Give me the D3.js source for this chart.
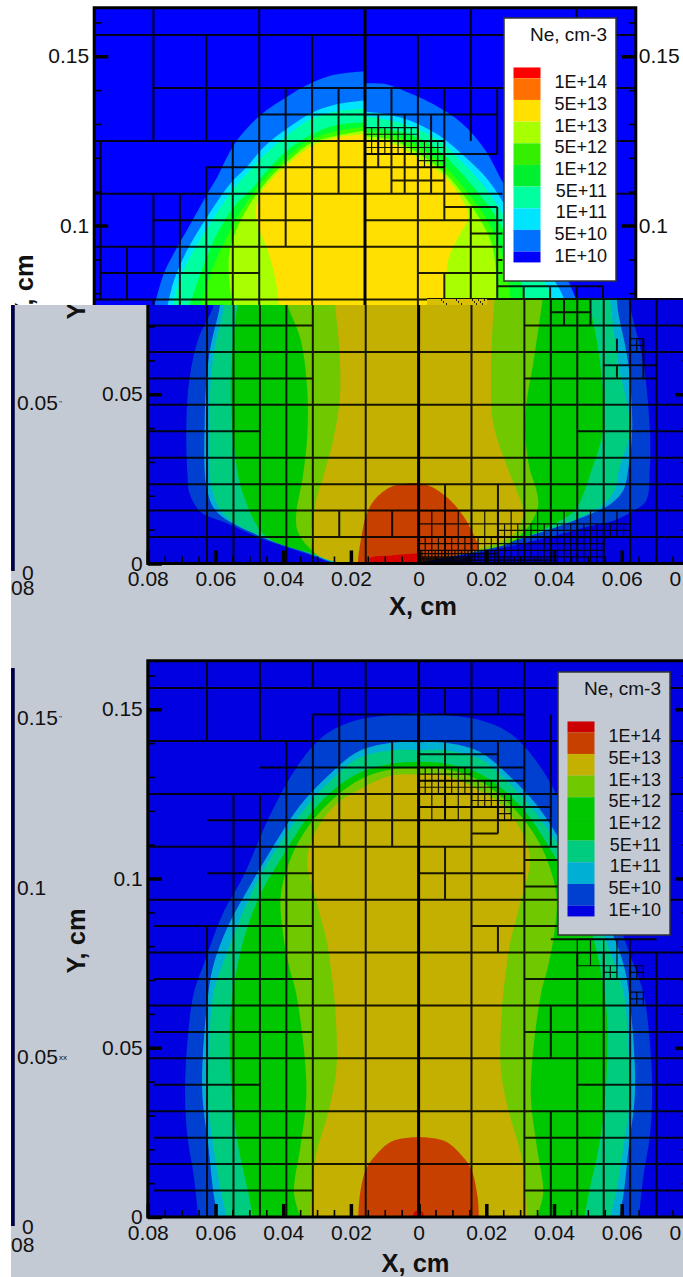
<!DOCTYPE html>
<meta charset="utf-8">
<style>
	html, body { margin: 0; padding: 0; background: #fff; }
	svg { display: block; }
	text { font-family: "Liberation Sans", Arial, sans-serif; fill: #111; }
	.tick text { font-size: 21px; }
	.tick line { stroke: #000; }
	.major .tick line { stroke-width: 3.5px; }
	.minor .tick line { stroke-width: 1.6px; }
	.title { font-size: 25.5px; font-weight: bold; }
	.grid { stroke: #000; stroke-width: 2px; stroke-opacity: 0.88; fill: none; }
	.fine { stroke: #000; stroke-width: 1.2px; stroke-opacity: 0.9; fill: none; }
</style>
<svg width="683" height="1277"></svg>
<script src="https://d3js.org/d3.v7.min.js"></script>
<script>

	// legend
	var legendLabels = ["1E+14", "5E+13", "1E+13", "5E+12", "1E+12", "5E+11", "1E+11", "5E+10", "1E+10"];
	var legendEdges = [-0.5, 0, 1, 2, 3, 4, 5, 6, 7, 8, 8.5];
	var brightColors = ["#ff0000", "#ff7000", "#ffe000", "#a8ff00", "#34f000", "#00f030", "#00ffa0", "#00e4ff", "#0070ff", "#0000ff"];
	var dullColors = ["#cc0000", "#c84000", "#c4b000", "#70c800", "#00c800", "#00c800", "#00cc80", "#00b0d4", "#0040d0", "#0000e0"];

	// ticks
	var xMajor = [-0.08, -0.06, -0.04, -0.02, 0, 0.02, 0.04, 0.06, 0.08];
	var xMinor = [-0.075, -0.07, -0.065, -0.055, -0.05, -0.045, -0.035, -0.03, -0.025, -0.015, -0.01, -0.005, 0.005, 0.01, 0.015, 0.025, 0.03, 0.035, 0.045, 0.05, 0.055, 0.065, 0.07, 0.075];
	var yMajor = [0, 0.05, 0.1, 0.15];
	var yMinor = [0.01, 0.02, 0.03, 0.04, 0.06, 0.07, 0.08, 0.09, 0.11, 0.12, 0.13, 0.14, 0.16];

	// contour lines, x and y in cm, outer level first
	var topFills = ["#0070ff", "#00e4ff", "#00ffa0", "#00ff30", "#38ff00", "#a8ff00", "#ffe000"];
	var topLeft = [
		[[0, 0.1456], [-0.0092, 0.1445], [-0.0161, 0.1420], [-0.0229, 0.1381], [-0.0308, 0.1327], [-0.0377, 0.1253], [-0.0407, 0.1203], [-0.0436, 0.1144], [-0.0471, 0.1085], [-0.0515, 0.1006], [-0.0559, 0.0928], [-0.0594, 0.0859], [-0.0623, 0.0760]],
		[[0, 0.1369], [-0.0092, 0.1356], [-0.0161, 0.1331], [-0.0229, 0.1287], [-0.0298, 0.1233], [-0.0348, 0.1174], [-0.0397, 0.1125], [-0.0466, 0.1026], [-0.0525, 0.0928], [-0.0564, 0.0839], [-0.0584, 0.0760]],
		[[0, 0.1346], [-0.0092, 0.1336], [-0.0161, 0.1314], [-0.0229, 0.1267], [-0.0298, 0.1208], [-0.0348, 0.1154], [-0.0387, 0.1110], [-0.0451, 0.1016], [-0.0505, 0.0928], [-0.0545, 0.0849], [-0.0569, 0.0760]],
		[[0, 0.1305], [-0.0092, 0.1295], [-0.0161, 0.1267], [-0.0229, 0.1223], [-0.0288, 0.1164], [-0.0338, 0.1105], [-0.0387, 0.1056], [-0.0436, 0.0977], [-0.0471, 0.0898], [-0.0500, 0.0819], [-0.0520, 0.0760]],
		[[0, 0.1292], [-0.0092, 0.1277], [-0.0161, 0.1253], [-0.0229, 0.1203], [-0.0288, 0.1149], [-0.0338, 0.1085], [-0.0377, 0.1026], [-0.0422, 0.0938], [-0.0456, 0.0859], [-0.0486, 0.0760]],
		[[0, 0.1280], [-0.0092, 0.1264], [-0.0161, 0.1243], [-0.0219, 0.1198], [-0.0269, 0.1154], [-0.0318, 0.1095], [-0.0362, 0.1026], [-0.0397, 0.0938], [-0.0403, 0.0878], [-0.0392, 0.0760]],
		[[0, 0.1270], [-0.0092, 0.1258], [-0.0161, 0.1233], [-0.0219, 0.1189], [-0.0269, 0.1144], [-0.0308, 0.1095], [-0.0323, 0.1046], [-0.0318, 0.1006], [-0.0288, 0.0928], [-0.0264, 0.0839], [-0.0254, 0.0760]]
	];
	var topRight = [
		[[0, 0.1420], [0.0059, 0.1418], [0.0098, 0.1405], [0.0197, 0.1361], [0.0286, 0.1302], [0.0355, 0.1223], [0.0409, 0.1125], [0.0492, 0.1006], [0.0571, 0.0898], [0.0625, 0.0780], [0.0635, 0.0760]],
		[[0, 0.1336], [0.0049, 0.1331], [0.0128, 0.1312], [0.0217, 0.1267], [0.0295, 0.1203], [0.0364, 0.1134], [0.0423, 0.1046], [0.0502, 0.0928], [0.0581, 0.0800], [0.0595, 0.0760]],
		[[0, 0.1322], [0.0059, 0.1314], [0.0138, 0.1292], [0.0222, 0.1248], [0.0295, 0.1179], [0.0364, 0.1100], [0.0419, 0.1016], [0.0492, 0.0908], [0.0547, 0.0800], [0.0560, 0.0760]],
		[[0, 0.1287], [0.0059, 0.1284], [0.0138, 0.1267], [0.0217, 0.1223], [0.0276, 0.1164], [0.0335, 0.1095], [0.0404, 0.0997], [0.0453, 0.0859], [0.0473, 0.0780], [0.0478, 0.0760]],
		[[0, 0.1276], [0.0079, 0.1267], [0.0158, 0.1233], [0.0236, 0.1174], [0.0305, 0.1095], [0.0355, 0.1026], [0.0394, 0.0947], [0.0423, 0.0839], [0.0433, 0.0760]],
		[[0, 0.1264], [0.0079, 0.1253], [0.0158, 0.1213], [0.0236, 0.1154], [0.0295, 0.1085], [0.0335, 0.1026], [0.0374, 0.0947], [0.0389, 0.0839], [0.0394, 0.0760]],
		[[0, 0.1253], [0.0079, 0.1243], [0.0158, 0.1198], [0.0236, 0.1144], [0.0286, 0.1075], [0.0305, 0.1026], [0.0276, 0.0967], [0.0246, 0.0898], [0.0236, 0.0760]]
	];

	var lowFills = ["#0040d0", "#00b0d4", "#00cc80", "#00c800", "#70c800", "#c4b000", "#c84000", "#d60000"];
	var midLeft = [
		[[-0.0606, 0.0790], [-0.0606, 0.0762], [-0.0651, 0.0663], [-0.0677, 0.0545], [-0.0686, 0.0416], [-0.0683, 0.0267], [-0.0677, 0.0208], [-0.0645, 0.0153], [-0.0567, 0.0119], [-0.0464, 0.0074], [-0.0336, 0.0030], [-0.0259, 0.0002]],
		[[-0.0587, 0.0790], [-0.0587, 0.0762], [-0.0619, 0.0614], [-0.0632, 0.0416], [-0.0625, 0.0218], [-0.0593, 0.0149], [-0.0464, 0.0079], [-0.0336, 0.0035], [-0.0252, 0.0002]],
		[[-0.0574, 0.0790], [-0.0574, 0.0762], [-0.0606, 0.0614], [-0.0619, 0.0416], [-0.0610, 0.0218], [-0.0574, 0.0144], [-0.0452, 0.0074], [-0.0323, 0.0030], [-0.0246, 0.0002]],
		[[-0.0535, 0.0790], [-0.0535, 0.0765], [-0.0542, 0.0713], [-0.0555, 0.0515], [-0.0542, 0.0317], [-0.0516, 0.0198], [-0.0452, 0.0081], [-0.0310, 0.0028], [-0.0239, 0.0002]],
		[[-0.0387, 0.0790], [-0.0387, 0.0765], [-0.0349, 0.0663], [-0.0329, 0.0515], [-0.0329, 0.0376], [-0.0342, 0.0257], [-0.0362, 0.0139], [-0.0355, 0.0089], [-0.0310, 0.0035], [-0.0233, 0.0002]],
		[[-0.0246, 0.0790], [-0.0246, 0.0765], [-0.0233, 0.0614], [-0.0233, 0.0485], [-0.0252, 0.0366], [-0.0278, 0.0267], [-0.0304, 0.0178], [-0.0310, 0.0035], [-0.0226, 0.0002]],
		[[0, 0.0238], [-0.0078, 0.0228], [-0.0130, 0.0188], [-0.0156, 0.0139], [-0.0169, 0.0079], [-0.0179, 0.0010], [-0.0179, 0]],
		[[0, 0.0030], [-0.0077, 0.0024], [-0.0143, 0.0016], [-0.0143, 0]]
	];
	var midRight = [
		[[0.0619, 0.0790], [0.0629, 0.0741], [0.0664, 0.0593], [0.0683, 0.0396], [0.0683, 0.0276], [0.0673, 0.0187], [0.0639, 0.0158], [0.0580, 0.0128], [0.0501, 0.0109], [0.0412, 0.0084], [0.0284, 0.0054], [0.0166, 0.0030], [0, 0.0005]],
		[[0.0585, 0.0790], [0.0590, 0.0741], [0.0619, 0.0593], [0.0631, 0.0396], [0.0619, 0.0276], [0.0605, 0.0217], [0.0570, 0.0178], [0.0511, 0.0148], [0.0422, 0.0114], [0.0284, 0.0074], [0.0166, 0.0045], [0, 0.0012]],
		[[0.0565, 0.0790], [0.0570, 0.0741], [0.0590, 0.0593], [0.0624, 0.0396], [0.0592, 0.0276], [0.0580, 0.0217], [0.0550, 0.0178], [0.0491, 0.0143], [0.0412, 0.0109], [0.0284, 0.0069], [0.0166, 0.0040], [0, 0.0010]],
		[[0.0505, 0.0790], [0.0511, 0.0741], [0.0536, 0.0593], [0.0545, 0.0396], [0.0511, 0.0276], [0.0491, 0.0217], [0.0462, 0.0158], [0.0403, 0.0118], [0.0284, 0.0067], [0.0166, 0.0038], [0, 0.0008]],
		[[0.0368, 0.0790], [0.0339, 0.0593], [0.0319, 0.0475], [0.0316, 0.0376], [0.0329, 0.0276], [0.0348, 0.0217], [0.0353, 0.0168], [0.0324, 0.0109], [0.0275, 0.0064], [0.0166, 0.0035], [0, 0.0006]],
		[[0.0225, 0.0790], [0.0218, 0.0692], [0.0214, 0.0544], [0.0220, 0.0416], [0.0265, 0.0276], [0.0289, 0.0217], [0.0309, 0.0148], [0.0284, 0.0089], [0.0186, 0.0045], [0, 0.0002]],
		[[0, 0.0237], [0.0038, 0.0227], [0.0088, 0.0192], [0.0127, 0.0148], [0.0156, 0.0099], [0.0176, 0.0049], [0.0171, 0.0040], [0, 0.0005]]
	];
	var lowHalf = [
		[[0, 0.1490], [-0.0078, 0.1483], [-0.0181, 0.1468], [-0.0271, 0.1428], [-0.0349, 0.1345], [-0.0439, 0.1187], [-0.0516, 0.1010], [-0.0580, 0.0892], [-0.0632, 0.0754], [-0.0664, 0.0662], [-0.0683, 0.0518], [-0.0690, 0.0366], [-0.0683, 0.0238], [-0.0664, 0.0120], [-0.0651, 0]],
		[[0, 0.1402], [-0.0078, 0.1401], [-0.0181, 0.1374], [-0.0271, 0.1300], [-0.0349, 0.1217], [-0.0439, 0.1079], [-0.0503, 0.0970], [-0.0561, 0.0864], [-0.0606, 0.0744], [-0.0621, 0.0662], [-0.0638, 0.0465], [-0.0638, 0.0347], [-0.0621, 0.0209], [-0.0606, 0.0071], [-0.0593, 0]],
		[[0, 0.1379], [-0.0078, 0.1379], [-0.0181, 0.1354], [-0.0259, 0.1290], [-0.0336, 0.1207], [-0.0413, 0.1098], [-0.0477, 0.0990], [-0.0535, 0.0862], [-0.0580, 0.0744], [-0.0606, 0.0662], [-0.0621, 0.0465], [-0.0623, 0.0347], [-0.0606, 0.0209], [-0.0587, 0.0091], [-0.0567, 0]],
		[[0, 0.1345], [-0.0078, 0.1340], [-0.0169, 0.1315], [-0.0246, 0.1266], [-0.0323, 0.1187], [-0.0400, 0.1069], [-0.0464, 0.0961], [-0.0510, 0.0843], [-0.0535, 0.0744], [-0.0555, 0.0612], [-0.0557, 0.0465], [-0.0548, 0.0317], [-0.0529, 0.0189], [-0.0503, 0.0071], [-0.0490, 0]],
		[[0, 0.1325], [-0.0078, 0.1323], [-0.0169, 0.1295], [-0.0246, 0.1241], [-0.0323, 0.1158], [-0.0374, 0.1069], [-0.0407, 0.0951], [-0.0400, 0.0833], [-0.0381, 0.0734], [-0.0362, 0.0662], [-0.0336, 0.0465], [-0.0332, 0.0347], [-0.0349, 0.0209], [-0.0368, 0.0071], [-0.0349, 0]],
		[[0, 0.1307], [-0.0078, 0.1305], [-0.0169, 0.1266], [-0.0246, 0.1217], [-0.0310, 0.1128], [-0.0329, 0.1049], [-0.0304, 0.0941], [-0.0271, 0.0813], [-0.0259, 0.0734], [-0.0246, 0.0612], [-0.0243, 0.0435], [-0.0265, 0.0317], [-0.0304, 0.0179], [-0.0317, 0.0071], [-0.0320, 0]],
		[[0, 0.0236], [-0.0078, 0.0224], [-0.0130, 0.0179], [-0.0156, 0.0140], [-0.0174, 0.0061], [-0.0178, 0]],
		[[0, 0.0022], [-0.0012, 0.0015], [-0.0017, 0]]
	];

	// mesh, in cells of 1/128 cm: [level, from, to]
	var cell = 1 / 128, edge = 10.24, roof = 21.03;
	var firstRows = [[20, -edge, edge], [18, -8, edge], [17, -4, 5], [16, -edge, 3], [16, 8, edge], [15.5, 0, 5], [15, -6, 3], [14.5, 1, 3], [14, -edge, 5.2], [14, 8, edge], [13.5, 3, 5], [13, -8, -2], [13, 0, 5.2], [12.5, 4, 5.2], [12, -edge, 5.2], [11.5, 5, 5.2], [11, -10, -4], [11, 2, 5.2], [10.5, 5, 9], [10, -edge, edge],
		[9.5, 5, 6.5], [9, -edge, -4], [9, 4, edge], [8, -edge, edge], [7.5, 7, 9], [7, -edge, -4], [7, 4, 9], [6, -edge, edge], [5, -edge, -6], [5, 6, edge], [4, -edge, edge], [3, -edge, edge], [2, -edge, edge], [1, -edge, edge]];
	var firstCols = [[-10, 10, 16], [-9, 10, 12], [-8, 16, roof], [-8, 11, 14], [-8, 0, 10], [-7, 0, 14], [-6, 16, 20], [-6, 0, 15], [-5, 0, 16], [-4, 0, roof], [-3, 12, 18], [-3, 1, 2], [-2, 0, 20], [-1, 14, 18], [-1, 1, 2],
		[0.5, 15, 17], [1, 14, 18], [1, 0, 3], [1.5, 14, 17], [2, 0, 20], [2.5, 14, 17], [3, 13, 18], [3, 10, 11], [3, 0, 3], [4, 16, roof], [4, 0, 13.5], [5, 15.5, 18], [5, 0, 13.5], [6, 18, 20], [6, 0, 10.5], [7, 0, 10.5], [8, 18, roof], [8, 0, 10.5], [9, 0, 10.5], [5.5, 9, 10], [6.5, 9, 10], [7.5, 7, 7.5], [7.5, 8, 8.5], [8.5, 7, 8.5]];
	// refined boxes: [left, right, bottom, top, step]
	var firstBoxes = [[0, 2, 15.5, 16.5, 0.25], [2, 3, 15, 16, 0.25], [8, 8.5, 8, 8.5, 0.25], [0, 8, 1.5, 2, 0.5], [0, 3, 1, 1.5, 0.5], [3, 8, 1, 1.5, 0.25], [0, 7, 0.5, 1, 0.25], [0, 3, 0.25, 0.5, 0.125], [3, 7, 0, 0.5, 0.25], [0, 2, 0, 0.25, 0.0625], [2, 5, 0, 0.25, 0.125]];

	var lowRows = [[20, -edge, edge], [19, -4, 4], [18, -edge, edge], [17.5, 0, 3], [17, -6, 4], [16.5, 0, 4], [16, -edge, edge], [15.5, 0, 5], [15, -8, 5], [14.5, 2, 3], [14, -edge, 6], [13.5, 4, 6], [13, -8, -4], [13, 0, 4], [12.5, 4, 6], [12, -edge, edge], [11, -10, -4], [11, 2, 6], [10.5, 5, 9], [10, -edge, edge],
		[9, -10, -4], [9, 4, edge], [8, -edge, edge], [7, -10, -4], [7, 4, edge], [6, -edge, edge], [5, -10, -6], [5, 6, edge], [4, -edge, edge], [3, -10, -4], [3, 4, edge], [2, -edge, edge], [1, -10, -4], [1, 4, edge]];
	var lowCols = [[-8, 18, roof], [-8, 0, 11], [-7, 0, 16], [-6, 18, roof], [-6, 0, 16], [-5, 0, 18], [-4, 20, roof], [-4, 0, 19], [-3, 14, 20], [-2, 0, roof], [-1, 14, 18], [1, 19, 20], [1, 15, 18], [1, 12, 14], [2, 0, roof], [3, 19, 20], [3, 14.5, 18], [3, 10, 11], [4, 0, roof], [5, 14, 19], [5, 6, 8], [5, 0, 4], [6, 19, 20], [6, 0, 10], [7, 0, 10], [8, 0, 10], [9, 0, 10], [9, 7, 8]];
	var lowBoxes = [[0, 2, 16, 17, 0.25], [2, 3, 15.5, 16.5, 0.25], [3, 3.5, 15, 16, 0.25], [0, 2, 15, 16, 0.5], [7, 7.5, 9, 9.5, 0.25], [8, 8.5, 9, 9.5, 0.25], [8, 8.5, 8, 8.5, 0.25], [6, 8, 9.5, 10.5, 0.5]];

	// left over labels of the figure underneath: text, y, mark after it
	var strayMid = [["0.05", 403, "''"], ["0", 573, ""]];
	var strayLow = [["0.15", 718, "''"], ["0.1", 888, ""], ["0.05", 1057, "xx"], ["0", 1227, ""]];
	var tornBits = [441, 443, 446, 456, 458, 461, 472, 474, 476, 478, 480, 482, 484];

	var svg = d3.select("svg");
	var defs = svg.append("defs");
	var scale = 3385, halfWidth = 0.08 * scale;

	defs.append("clipPath").attr("id", "clipTop").append("rect").attr("width", 683).attr("height", 305);
	defs.append("clipPath").attr("id", "clipMid").append("path").attr("d", "M11,305H427V298H683V650H11Z");
	defs.append("clipPath").attr("id", "clipPage").append("rect").attr("width", 683).attr("height", 1277);

	function drawHalf(g, lines, fills, x, y) {
		var line = d3.line().x(function(d) { return x(d[0]); }).y(function(d) { return y(d[1]); })
			.curve(d3.curveCatmullRom.alpha(0.5));
		lines.forEach(function(pts, i) {
			var first = pts[0], last = pts[pts.length - 1];
			g.append("path")
				.attr("fill", fills[i])
				.attr("d", line(pts) + "L" + x(0) + "," + y(last[1]) + "L" + x(0) + "," + y(first[1]) + "Z");
		});
	}

	function drawMesh(g, rows, cols, boxes, x, y) {
		var gx = function(i) { return x(i * cell); }, gy = function(j) { return y(j * cell); };
		var d = rows.map(function(r) { return "M" + gx(r[1]) + "," + gy(r[0]) + "H" + gx(r[2]); }).join("")
			+ cols.map(function(c) { return "M" + gx(c[0]) + "," + gy(c[1]) + "V" + gy(c[2]); }).join("");
		g.append("path").attr("class", "grid").attr("d", d);
		var fine = "";
		boxes.forEach(function(b) {
			d3.range(b[0], b[1] + 1e-6, b[4]).forEach(function(i) { fine += "M" + gx(i) + "," + gy(b[2]) + "V" + gy(b[3]); });
			d3.range(b[2], b[3] + 1e-6, b[4]).forEach(function(j) { fine += "M" + gx(b[0]) + "," + gy(j) + "H" + gx(b[1]); });
		});
		g.append("path").attr("class", "fine").attr("d", fine);
	}

	function drawLegend(g, left, top, colors) {
		var band = d3.scaleLinear().domain([0, 8]).range([top + 60.3, top + 233.6]);
		g.append("rect").attr("x", left).attr("y", top).attr("width", 112).attr("height", 263)
			.attr("fill", colors.box).attr("stroke", "#333").attr("stroke-width", 1.5);
		g.append("text").attr("x", left + 103).attr("y", top + 23).attr("text-anchor", "end")
			.style("font-size", "19px").text("Ne, cm-3");
		g.selectAll(".swatch").data(colors.fills).enter().append("rect")
			.attr("x", left + 9.5).attr("width", 27)
			.attr("y", function(d, i) { return band(legendEdges[i]); })
			.attr("height", function(d, i) { return band(legendEdges[i + 1]) - band(legendEdges[i]); })
			.attr("fill", function(d) { return d; });
		g.selectAll(".entry").data(legendLabels).enter().append("text")
			.attr("x", left + 103).attr("text-anchor", "end").attr("dy", "0.35em")
			.attr("y", function(d, i) { return band(i) + 3.7; })
			.style("font-size", "18px")
			.text(function(d) { return d; });
	}

	function drawAxes(g, x, y, opts) {
		var xFormat = function(d) { return d === 0 ? "0" : Math.abs(d).toFixed(2); };
		var y0 = y(0), xl = x(-0.08), xr = x(0.08);
		if (opts.bottom) {
			g.append("g").attr("class", "major").attr("transform", "translate(0," + y0 + ")")
				.call(d3.axisBottom(x).tickValues(xMajor).tickSize(-13).tickPadding(8).tickFormat(xFormat))
				.call(function(a) { a.select(".domain").remove(); });
			g.append("g").attr("class", "minor").attr("transform", "translate(0," + y0 + ")")
				.call(d3.axisBottom(x).tickValues(xMinor).tickSize(-7).tickFormat(""))
				.call(function(a) { a.select(".domain").remove(); });
		}
		g.append("g").attr("class", "major").attr("transform", "translate(" + xl + ",0)")
			.call(d3.axisLeft(y).tickValues(yMajor).tickSize(-14).tickPadding(5).tickFormat(String))
			.call(function(a) { a.select(".domain").remove(); });
		g.append("g").attr("class", "minor").attr("transform", "translate(" + xl + ",0)")
			.call(d3.axisLeft(y).tickValues(yMinor).tickSize(-7).tickFormat(""))
			.call(function(a) { a.select(".domain").remove(); });
		g.append("g").attr("class", "major").attr("transform", "translate(" + xr + ",0)")
			.call(d3.axisRight(y).tickValues(yMajor.slice(1)).tickSize(-14).tickPadding(3).tickFormat(opts.rightLabels ? String : ""))
			.call(function(a) { a.select(".domain").remove(); });
		g.append("g").attr("class", "minor").attr("transform", "translate(" + xr + ",0)")
			.call(d3.axisRight(y).tickValues(yMinor).tickSize(-7).tickFormat(""))
			.call(function(a) { a.select(".domain").remove(); });
		g.append("path").attr("fill", "none").attr("stroke", "#000").attr("stroke-width", 3)
			.attr("d", "M" + xl + "," + y0 + "V" + y(0.1643) + "H" + xr + "V" + y0 + "Z");
		g.append("line").attr("x1", x(0)).attr("x2", x(0)).attr("y1", y0).attr("y2", y(0.1643))
			.attr("stroke", "#000").attr("stroke-width", 3);
	}

	function panel(parent, cx, y0, back) {
		var x = d3.scaleLinear().domain([-0.08, 0.08]).range([cx - halfWidth, cx + halfWidth]);
		var y = d3.scaleLinear().domain([0, 0.1643]).range([y0, y0 - 0.1643 * scale]);
		parent.append("rect")
			.attr("x", x(-0.08)).attr("y", y(0.1643))
			.attr("width", x(0.08) - x(-0.08)).attr("height", y(0) - y(0.1643))
			.attr("fill", back);
		return {x: x, y: y};
	}

	function yTitle(g, bx, cy) {
		g.append("text").attr("class", "title").attr("text-anchor", "middle")
			.attr("transform", "translate(" + bx + "," + cy + ") rotate(-90)")
			.text("Y, cm");
	}

	function stray(g, rows, ends) {
		rows.forEach(function(r) {
			g.append("text").attr("x", r[0] === "0" ? 22 : 17).attr("y", r[1]).attr("dy", "0.35em")
				.style("font-size", "21px").text(r[0]);
			if (r[2]) {
				g.append("text").attr("x", 59).attr("y", r[1]).attr("dy", "0.35em")
					.style("font-size", "8px").text(r[2]);
			}
		});
		g.append("text").attr("x", 11).attr("y", ends).attr("dy", "0.35em").style("font-size", "21px").text("08");
	}

	// top figure, bright colours
	var topG = svg.append("g").attr("clip-path", "url(#clipTop)");
	var a = panel(topG, 365, 564, "#0000ff");
	drawHalf(topG, topLeft, topFills, a.x, a.y);
	drawHalf(topG, topRight, topFills, a.x, a.y);
	drawMesh(topG, firstRows, firstCols, firstBoxes, a.x, a.y);
	drawAxes(topG, a.x, a.y, {rightLabels: true});
	yTitle(topG, 33, 287);
	drawLegend(topG, 504, 18, {box: "#fff", fills: brightColors});

	// grey sheet under the two lower figures
	svg.append("rect").attr("x", 11).attr("y", 305).attr("width", 672).attr("height", 972).attr("fill", "#c4cad4");

	// same figure in dull colours, pasted over the lower part
	var midG = svg.append("g").attr("clip-path", "url(#clipMid)");
	var b = panel(midG, 418.6, 563.5, "#0000e0");
	drawHalf(midG, midLeft, lowFills, b.x, b.y);
	drawHalf(midG, midRight, lowFills, b.x, b.y);
	drawMesh(midG, firstRows, firstCols, firstBoxes, b.x, b.y);
	drawAxes(midG, b.x, b.y, {bottom: true});
	yTitle(midG, 85, 287);
	midG.append("text").attr("class", "title").attr("x", 423).attr("y", 615).attr("text-anchor", "middle").text("X, cm");
	stray(midG, strayMid, 588);

	// yellow torn edge of the paste
	var torn = svg.append("g");
	torn.append("rect").attr("x", 427).attr("y", 299).attr("width", 60).attr("height", 6).attr("fill", "#d8c000");
	torn.selectAll("rect.bit").data(tornBits).enter().append("rect")
		.attr("x", function(d) { return d; }).attr("y", function(d, i) { return 299 + i % 3 * 2; })
		.attr("width", 1).attr("height", 2).attr("fill", "#222");

	// lower figure
	var lowG = svg.append("g").attr("clip-path", "url(#clipPage)");
	var c = panel(lowG, 418.6, 1217, "#0000e0");
	drawHalf(lowG, lowHalf, lowFills, c.x, c.y);
	drawHalf(lowG, lowHalf.map(function(pts) {
		return pts.map(function(p) { return [-p[0], p[1]]; });
	}), lowFills, c.x, c.y);
	drawMesh(lowG, lowRows, lowCols, lowBoxes, c.x, c.y);
	drawAxes(lowG, c.x, c.y, {bottom: true});
	yTitle(lowG, 85, 941);
	lowG.append("text").attr("class", "title").attr("x", 415.5).attr("y", 1272).attr("text-anchor", "middle").text("X, cm");
	drawLegend(lowG, 558, 672, {box: "#c4cad4", fills: dullColors});
	stray(lowG, strayLow, 1245);

	// black and blue edge of the sheet on the left
	svg.append("rect").attr("x", 11).attr("y", 305).attr("width", 3.5).attr("height", 266).attr("fill", "#0000a0");
	svg.append("rect").attr("x", 12.5).attr("y", 305).attr("width", 2).attr("height", 266).attr("fill", "#000");
	svg.append("rect").attr("x", 11).attr("y", 668).attr("width", 3.5).attr("height", 558).attr("fill", "#0000a0");
	svg.append("rect").attr("x", 12.5).attr("y", 668).attr("width", 2).attr("height", 558).attr("fill", "#000");

</script>
